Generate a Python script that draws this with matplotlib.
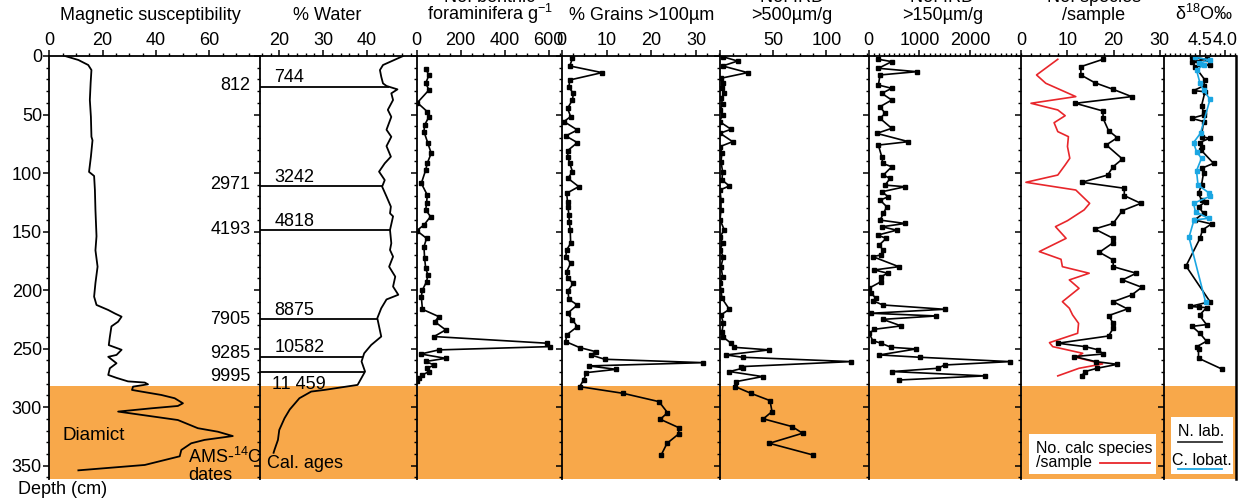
import numpy as np
import matplotlib
matplotlib.use("Agg")
import matplotlib.pyplot as plt
from matplotlib.ticker import MultipleLocator, FixedLocator
from matplotlib.patches import Rectangle
from matplotlib.lines import Line2D

plt.rcParams['font.family'] = ['Liberation Sans', 'DejaVu Sans']
plt.rcParams['mathtext.fontset'] = 'custom'
plt.rcParams['mathtext.rm'] = 'Liberation Sans'
plt.rcParams['mathtext.it'] = 'Liberation Sans:italic'
plt.rcParams['font.size'] = 13

# ---- core data (depth in cm) ----
mag_depth = [0, 3.4, 7.7, 12, 23, 37.6, 52, 69, 72, 86, 99, 102.5, 114.5, 131.5, 154, 166, 180, 194,
             205.6, 212.7, 217, 220, 222.7, 227, 231, 240, 247, 251, 255.4, 257, 262.5, 266.8, 272.5,
             275, 278, 279, 280.5, 282.5, 285.3, 286.7, 289.6, 292.4, 296.7, 299, 301, 303.8, 311, 318,
             321, 324.7, 328, 330.9, 336.6, 342, 349.4, 354]
mag_value = [5.9, 10.9, 14.6, 15.8, 15.5, 15.2, 15.6, 15.8, 16.2, 15.6, 14.9, 16.8, 17.1, 17.3, 17.7,
             17.3, 18.1, 17.3, 16.8, 17.7, 22.1, 24.6, 27.1, 25.8, 23.3, 22.7, 22.3, 27.1, 25.2, 22.1,
             25.2, 22.7, 22.1, 25.2, 29.5, 35.8, 37.0, 31.4, 31.0, 34.5, 42.0, 47.0, 50.1, 48.2, 38.3,
             25.8, 48.2, 55.7, 63.2, 68.8, 58.2, 53.2, 49.5, 48.9, 35.8, 10.9]

water_depth = [0, 7.7, 12, 17.7, 23.4, 25.6, 28.5, 31.9, 37.6, 46, 52, 63, 69, 77, 86, 91.7, 98.8, 106,
               111.6, 120, 128.7, 134.4, 137, 148.6, 160, 165.7, 171.4, 180, 188.5, 197, 204, 208,
               215.5, 224, 239.7, 246.9, 254, 261, 269.6, 281, 285.3, 286.7, 292.4, 302, 309.5, 319.5,
               328, 336.6, 339]
water_value = [48.3, 43.7, 43.0, 43.3, 43.7, 44.5, 47.0, 45.6, 46.0, 44.8, 45.6, 44.5, 45.6, 44.5, 45.5,
               44.1, 42.8, 44.1, 43.5, 44.5, 45.5, 45.3, 46.0, 45.3, 45.6, 45.3, 46.0, 45.1, 46.5, 46.0,
               47.2, 44.5, 43.3, 42.4, 43.3, 41.0, 39.4, 38.8, 39.6, 37.9, 30.3, 27.3, 24.6, 22.4, 21.2,
               20.0, 19.7, 18.9, 18.7]

age_depth = [26.2, 111, 148.6, 225, 256.8, 269.6]
cal_ages = ['744', '3242', '4818', '8875', '10582', '11 459']
ams_depth = [24.8, 110.2, 148.6, 225.5, 254.6, 273.4]
ams_ages = ['812', '2971', '4193', '7905', '9285', '9995']

benthic_depth = [11.4, 16.2, 23.3, 29, 39.9, 47.5, 51.8, 59, 64.6, 74.6, 83.1, 91.7, 97.4, 108.8, 118.7,
                 125.9, 131.5, 137.2, 144.4, 149.2, 155.8, 162.9, 172.8, 181.4, 187, 192.8, 199.9,
                 205.6, 216.4, 222.7, 227, 234, 239.7, 245.4, 248.3, 251.1, 254.6, 258.3, 261, 264,
                 266.8, 269.6, 272.5, 275.3, 277.3]
benthic_value = [41, 56, 41, 56, 3, 48, 56, 36, 33, 51, 66, 48, 41, 21, 48, 45, 41, 63, 33, 0, 45, 33,
                 36, 41, 51, 45, 26, 21, 26, 101, 82, 132, 79, 594, 606, 101, 18, 132, 41, 79, 48, 56,
                 26, 10, 0]

grain_depth = [2, 8.5, 14.2, 20.5, 26.8, 31.9, 37.6, 44.7, 51.8, 56, 63.2, 68.3, 74, 80.9, 86.6, 91.7,
               98.8, 104.5, 111.6, 117.3, 124.4, 128.7, 135.8, 142, 148.6, 160, 165.7, 171.4, 177.1,
               184.2, 189.9, 194.2, 200.5, 207.9, 212.7, 219.8, 225.5, 231.2, 238.3, 244, 249.1,
               252.6, 255.4, 259.1, 262, 264.8, 267.7, 270.5, 276.8, 282.5, 288.2, 295.3, 304.7,
               310.4, 317.5, 322.9, 330.9, 340.8]
grain_value = [2.4, 1.8, 9.0, 1.8, 1.6, 2.6, 2.4, 1.3, 2.0, 0.5, 3.5, 0.9, 3.5, 1.3, 1.4, 1.8, 2.4, 1.4,
               3.8, 1.1, 1.3, 1.4, 1.6, 1.7, 1.9, 2.0, 1.1, 0.9, 2.0, 1.1, 1.3, 2.6, 1.4, 1.6, 3.5, 1.3,
               2.4, 3.5, 1.1, 0.9, 4.0, 7.6, 6.5, 9.6, 31.6, 6.0, 12.2, 5.5, 4.9, 4.0, 13.7, 21.7,
               23.6, 22.0, 26.1, 26.1, 23.5, 22.2]

ird500_depth = [0.6, 4.3, 8.5, 14.2, 19, 23.3, 27.6, 31.9, 36.2, 41, 46, 50.4, 56, 62.6, 66, 73.2,
                77.4, 83.1, 90.3, 98.8, 105.9, 111, 114.5, 123, 131.5, 140, 148.6, 154.3, 160, 165.7,
                171.4, 180, 188.5, 194.2, 199.9, 207, 216.4, 221.2, 228.4, 235.5, 240.3, 245.4,
                248.9, 251.1, 255.4, 257.4, 261.1, 265.4, 266.8, 269.6, 273.9, 278.2, 282.5, 288.2,
                294.4, 303.8, 310, 316.6, 322.3, 330.9, 340.8]
ird500_value = [2.9, 17.0, 2.9, 26.3, 1.4, 2.9, 2.3, 4.5, 1.4, 3.0, 0.5, 2.9, 0, 10.8, 0.5, 12.3, 0.5,
                2.3, 1.4, 2.9, 2.3, 9.2, 0.5, 1.4, 1.4, 0.5, 4.5, 0.5, 2.9, 0.5, 3.6, 1.4, 2.9, 0.5,
                1.4, 2.3, 9.2, 1.4, 3.6, 2.3, 3.6, 10.8, 13.9, 46.6, 6.1, 21.7, 122.9, 20.1, 21.7,
                9.2, 40.3, 15.4, 14.8, 29.4, 47.2, 49.1, 41.0, 67.8, 77.7, 46.6, 87.1]

ird150_depth = [2.8, 4.8, 10.5, 13.4, 16.2, 24.8, 27.6, 31.9, 37.6, 43.3, 49, 53.3, 61.8, 66.1, 73.2,
                76.1, 86.1, 91.8, 94.6, 101.7, 104.6, 110.3, 111.7, 116, 120.3, 123.1, 128.8, 134.5,
                140.2, 143.1, 145.9, 148.8, 153, 155.8, 161.4, 165.7, 170, 171.4, 180, 182.8, 185.6,
                188.5, 192.8, 198.5, 202.7, 207, 209, 212.7, 216.4, 219.8, 222.1, 225, 230.6, 233.5,
                237, 243.2, 245.4, 248.9, 250.3, 255.4, 257.4, 261.1, 264, 266.8, 269.6, 273.3, 276.8]
ird150_value = [191, 455, 191, 950, 224, 191, 455, 257, 455, 224, 323, 224, 455, 158, 785, 191, 257,
                277, 455, 290, 422, 323, 719, 257, 389, 224, 356, 290, 224, 719, 257, 554, 178, 343,
                211, 277, 244, 79, 594, 112, 376, 244, 244, 0, 46, 145, 79, 277, 1497, 46, 1333, 277,
                640, 112, 13, 79, 244, 442, 937, 211, 1016, 2785, 1497, 1366, 462, 2290, 607]

species_depth = [2.8, 9.1, 16.2, 22.8, 28.5, 34.7, 40.4, 47, 53.2, 63.8, 69.8, 76, 88, 94.5, 101.7,
                 107.9, 113, 119.3, 125.9, 132.1, 143, 147.8, 155.8, 159.5, 167.7, 174.3, 180, 185.6,
                 191.3, 197.6, 204.2, 209.9, 216.1, 221.8, 228.4, 232.6, 239.2, 245.4, 248.3, 251.1,
                 254.6, 256.8, 261.1, 263.4, 266.8, 269.6, 273.3]
species_value = [17.7, 12.9, 12.9, 15.9, 19.9, 23.9, 11.7, 17.7, 17.7, 18.9, 20.8, 18.4, 21.9, 19.9,
                 18.7, 13.1, 22.3, 22.3, 25.9, 21.9, 19.9, 15.9, 19.9, 19.9, 16.9, 19.9, 19.9, 24.9,
                 21.9, 26.1, 23.9, 19.9, 23.0, 18.9, 19.9, 19.9, 18.9, 7.9, 13.8, 16.7, 17.7, 11.5,
                 16.1, 20.8, 16.4, 13.8, 13.1]

calc_depth = [2.8, 16.2, 23.3, 34.7, 40.4, 46.1, 51, 57, 64.6, 68.9, 77.4, 87.4, 93.1, 101.7, 107.9,
              114.5, 125.9, 131.5, 140.7, 145.8, 155.8, 167.1, 173.7, 180, 185.6, 191.3, 198.5, 209.9,
              215.5, 221.2, 228.4, 236.9, 244.9, 248.3, 254, 257.4, 263.1, 266.8, 273.3]
calc_value = [7.9, 3.3, 5.3, 11.8, 2.1, 7.9, 9.5, 7.1, 7.9, 10.2, 10.0, 10.5, 9.5, 7.9, 1.0, 11.8, 14.8,
              13.6, 10.0, 7.4, 9.7, 3.9, 8.6, 8.9, 14.7, 10.4, 12.5, 8.9, 10.4, 11.1, 12.4, 12.2, 6.1,
              6.8, 13.3, 11.8, 17.6, 12.5, 7.9]

nlab_depth = [1.1, 2.8, 4.8, 7.7, 9.1, 20.5, 25.6, 29.6, 30.5, 42.7, 47.6, 50.4, 53.2, 56, 68.9, 70.3,
              74, 77.4, 80.3, 91.7, 96, 100.2, 110.2, 117.3, 123, 124.4, 128.7, 134.4, 140.1, 143.5,
              148.6, 155.8, 179.4, 209.9, 214, 214.5, 215, 221.5, 229.5, 231, 237, 243.7, 248.5, 250,
              258.2, 267.3]
nlab_value = [4.67, 4.37, 4.67, 4.30, 4.60, 4.40, 4.43, 4.63, 4.40, 4.47, 4.43, 4.43, 4.67, 4.43, 4.47,
              4.31, 4.51, 4.47, 4.48, 4.23, 4.47, 4.43, 4.47, 4.53, 4.47, 4.38, 4.53, 4.43, 4.61, 4.27,
              4.45, 4.50, 4.78, 4.30, 4.70, 4.53, 4.37, 4.51, 4.37, 4.66, 4.50, 4.37, 4.57, 4.53, 4.53,
              4.07]

clob_depth = [1.1, 3.4, 6.3, 7.7, 12, 23.3, 29, 37, 66, 74, 81.7, 87.4, 98, 110.2, 116.7, 120, 125.9,
              133, 138.7, 140.1, 154.9, 209.9]
clob_value = [4.60, 4.30, 4.53, 4.43, 4.57, 4.50, 4.43, 4.30, 4.49, 4.63, 4.57, 4.47, 4.57, 4.54, 4.33,
              4.31, 4.63, 4.59, 4.33, 4.62, 4.72, 4.39]

diamict_top = 282
depth_max = 361.4

ORANGE = '#f8a84a'
RED = '#e8262b'
BLUE = '#1ba6e2'

W, H = 1239, 500
TOP, BOTTOM = 56, 479
fig = plt.figure(figsize=(W / 100, H / 100), dpi=100)


def fx(x):
    return x / W


def fy(y):
    return 1 - y / H


def strip(x0, x1, xlim, major, minor, labels=None):
    ax = fig.add_axes([fx(x0), fy(BOTTOM), (x1 - x0) / W, (BOTTOM - TOP) / H])
    ax.set_xlim(*xlim)
    ax.set_ylim(depth_max, 0)
    ax.axhspan(diamict_top, depth_max, color=ORANGE, lw=0, zorder=0)
    ax.xaxis.tick_top()
    ax.xaxis.set_major_locator(FixedLocator(major))
    ax.xaxis.set_minor_locator(MultipleLocator(minor))
    if labels is not None:
        ax.set_xticklabels(labels)
    ax.yaxis.set_major_locator(MultipleLocator(50))
    ax.yaxis.set_minor_locator(MultipleLocator(10))
    ax.tick_params(which='major', direction='out', length=4.3, width=1.1, pad=1, labelsize=13)
    ax.tick_params(which='minor', direction='out', length=2.4, width=1.0)
    ax.tick_params(axis='y', labelleft=False)
    for s in ('right', 'bottom'):
        ax.spines[s].set_visible(False)
    for s in ('left', 'top'):
        ax.spines[s].set_linewidth(1.3)
    return ax


# magnetic susceptibility
ax1 = strip(49.3, 260, (0, 79), [0, 20, 40, 60], 5)
ax1.tick_params(axis='y', labelleft=True)
ax1.plot(mag_value, mag_depth, color='k', lw=1.3)

# water content with dated levels
ax2 = strip(260, 416.7, (15.6, 51.4), [20, 30, 40], 2)
ax2.plot(water_value, water_depth, color='k', lw=1.3)
line_end = np.interp(age_depth, water_depth, water_value)
ax2.hlines(age_depth, 15.6, line_end, color='k', lw=1.3)
for d, lab in zip(age_depth[:-1], cal_ages[:-1]):
    ax2.text(18.9, d - 3.6, lab, ha='left', va='baseline', fontsize=13)
ax2.text(18.4, age_depth[-1] + 3.5, cal_ages[-1], ha='left', va='top', fontsize=13)
for d, lab in zip(ams_depth, ams_ages):
    ax2.annotate(lab, xy=(0, d), xycoords=('axes fraction', 'data'), xytext=(-7, 0),
                 textcoords='offset points', ha='right', va='center', fontsize=13)

# benthic foraminifera
ax3 = strip(416.7, 561.7, (0, 660), [0, 200, 400, 600], 50)
ax3.plot(benthic_value, benthic_depth, color='k', lw=1.2, marker='s', ms=2.6)

# coarse grains
ax4 = strip(561.7, 719.5, (0, 35.2), [0, 10, 20, 30], 2.5)
ax4.plot(grain_value, grain_depth, color='k', lw=1.2, marker='s', ms=3.3)

# IRD > 500 um
ax5 = strip(719.5, 868.7, (0, 139.5), [0, 50, 100], 12.5, ['', '50', '100'])
ax5.plot(ird500_value, ird500_depth, color='k', lw=1.2, marker='s', ms=2.4)

# IRD > 150 um
ax6 = strip(868.7, 1021.3, (0, 3010), [0, 1000, 2000], 100)
ax6.plot(ird150_value, ird150_depth, color='k', lw=1.2, marker='s', ms=2.4)

# species counts
ax7 = strip(1021.3, 1164, (0, 30.9), [0, 10, 20, 30], 2)
ax7.plot(calc_value, calc_depth, color=RED, lw=1.2)
ax7.plot(species_value, species_depth, color='k', lw=1.2, marker='s', ms=3.2)

# oxygen isotopes
ax8 = strip(1164, 1236, (5.22, 3.78), [4.5, 4.0], 0.1, ['4.5', '4.0'])
ax8.spines['right'].set_visible(True)
ax8.spines['right'].set_linewidth(1.8)
ax8.plot(nlab_value, nlab_depth, color='k', lw=1.2, marker='s', ms=3.0)
ax8.plot(clob_value, clob_depth, color=BLUE, lw=1.2, marker='s', ms=3.0)

# column headings (two-line headings run off the top edge)
heads = [(150, 'Magnetic susceptibility', None),
         (326.7, '% Water', None),
         (490, 'foraminifera g$^{-1}$', 'No. benthic'),
         (641.7, '% Grains >100µm', None),
         (792, '>500µm/g', 'No. IRD'),
         (942.5, '>150µm/g', 'No. IRD'),
         (1094, '/sample', 'No. species'),
         (1203.8, 'δ$^{18}$O‰', None)]
for x, lower, upper in heads:
    fig.text(fx(x), fy(20.5), lower, ha='center', va='baseline', fontsize=13)
    if upper:
        fig.text(fx(x), fy(2.2), upper, ha='center', va='baseline', fontsize=13)

fig.text(fx(18), fy(494), 'Depth (cm)', ha='left', va='baseline', fontsize=13)
fig.text(fx(63), fy(440), 'Diamict', ha='left', va='baseline', fontsize=13.5)
fig.text(fx(188), fy(463), 'AMS-$^{14}$C', ha='left', va='baseline', fontsize=13)
fig.text(fx(188), fy(480), 'dates', ha='left', va='baseline', fontsize=13)
fig.text(fx(267), fy(468), 'Cal. ages', ha='left', va='baseline', fontsize=13)

# key boxes
fig.patches.append(Rectangle((fx(1029), fy(474)), (1156 - 1029) / W, (474 - 434) / H,
                             transform=fig.transFigure, facecolor='white', edgecolor='none', zorder=5))
fig.text(fx(1036), fy(452.5), 'No. calc species', ha='left', va='baseline', fontsize=11.5, zorder=6)
fig.text(fx(1036), fy(467.5), '/sample', ha='left', va='baseline', fontsize=11.5, zorder=6)
fig.lines.append(Line2D([fx(1100), fx(1150)], [fy(463), fy(463)], transform=fig.transFigure,
                        color=RED, lw=1.3, zorder=6))

fig.patches.append(Rectangle((fx(1171), fy(474)), (1232.7 - 1171) / W, (474 - 416.7) / H,
                             transform=fig.transFigure, facecolor='white', edgecolor='none', zorder=5))
fig.text(fx(1201.5), fy(436), 'N. lab.', ha='center', va='baseline', fontsize=11.5, zorder=6)
fig.lines.append(Line2D([fx(1178), fx(1222)], [fy(441.7), fy(441.7)], transform=fig.transFigure,
                        color='#333333', lw=1.3, zorder=6))
fig.text(fx(1201.5), fy(465), 'C. lobat.', ha='center', va='baseline', fontsize=11.5, zorder=6)
fig.lines.append(Line2D([fx(1178), fx(1222)], [fy(469.3), fy(469.3)], transform=fig.transFigure,
                        color=BLUE, lw=1.3, zorder=6))

fig.savefig('out.png', dpi=100)
